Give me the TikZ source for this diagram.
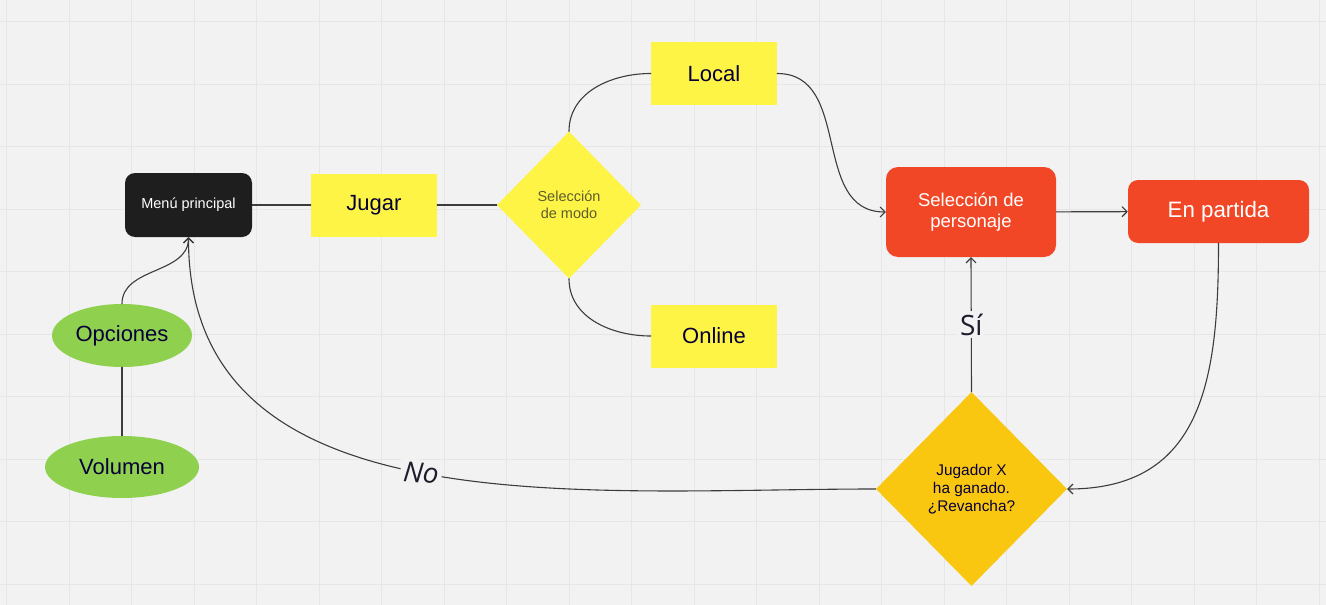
\documentclass[tikz,border=0pt]{standalone}
\usepackage{fontspec}
\setmainfont{Liberation Sans}
\newfontfamily\lblfont{Open Sans}
\usetikzlibrary{shapes.geometric,arrows.meta}
\definecolor{bgcol}{HTML}{F2F2F2}
\definecolor{gridcol}{HTML}{E6E6E6}
\definecolor{inkcol}{HTML}{050038}
\definecolor{linecol}{HTML}{3C3C3C}
\definecolor{lblcol}{HTML}{1C1C2C}
\definecolor{yelcol}{HTML}{FEF445}
\definecolor{redcol}{HTML}{F24726}
\definecolor{grncol}{HTML}{8FD14F}
\definecolor{goldcol}{HTML}{FAC710}
\definecolor{blkcol}{HTML}{1E1E1E}
\definecolor{olvcol}{HTML}{5F5D2C}
\tikzset{
	gridline/.style={color=gridcol,line width=0.8pt},
	conn/.style={color=linecol,line width=1.1pt},
	yelbox/.style={rectangle,fill=yelcol,minimum width=126,minimum height=63,inner sep=0,text=inkcol,font=\fontsize{22}{26}\selectfont},
	redbox/.style={rectangle,rounded corners=12,fill=redcol,inner sep=0,text=white,align=center},
	oval/.style={ellipse,fill=grncol,minimum height=63,inner sep=0,text=inkcol,font=\fontsize{22}{26}\selectfont},
	lbl/.style={fill=bgcol,inner sep=3,text=lblcol,font=\lblfont\fontsize{28}{32}\selectfont}
}
\begin{document}
\begin{tikzpicture}[x=1pt,y=-1pt,line cap=round,line join=round,>={Straight Barb[length=5pt,width=10pt]}]
	\useasboundingbox[fill=bgcol] (0,0) rectangle (1326,605);
	\foreach \gx in {0,...,21}
	\draw[gridline] ({6.5+62.5*\gx},0) -- ({6.5+62.5*\gx},605);
	\foreach \gy in {0,...,9}
	\draw[gridline] (0,{21.5+62.5*\gy}) -- (1326,{21.5+62.5*\gy});
	% nodos
	\node[rectangle,rounded corners=10,fill=blkcol,minimum width=127,minimum height=64,inner sep=0,text=white,font=\fontsize{14.5}{17}\selectfont] (menu) at (188.5,205) {Menú principal};
	\node[yelbox] (jugar) at (374,205) {Jugar};
	\node[diamond,fill=yelcol,minimum width=144,minimum height=147,inner sep=0,align=center,text=olvcol,font=\fontsize{14.5}{16.7}\selectfont] (modo) at (569,205) {Selección\\de modo};
	\node[yelbox] (local) at (714,73.5) {Local};
	\node[yelbox] (online) at (714,336) {Online};
	\node[redbox,minimum width=170,minimum height=90,font=\fontsize{18.5}{21}\selectfont] (pers) at (971,212) {Selección de\\personaje};
	\node[redbox,rounded corners=10,minimum width=181,minimum height=63,font=\fontsize{22.3}{26}\selectfont] (part) at (1218.5,211.5) {En partida};
	\node[diamond,fill=goldcol,minimum width=191,minimum height=194,inner sep=0,align=center,text=inkcol,font=\fontsize{15.4}{18}\selectfont] (rev) at (971.5,489) {Jugador X\\ha ganado.\\¿Revancha?};
	\node[oval,minimum width=140] (opc) at (122,335.5) {Opciones};
	\node[oval,minimum width=154,minimum height=62] (vol) at (122,467) {Volumen};
	% conectores
	\draw[conn] (menu) -- (jugar);
	\draw[conn] (jugar) -- (modo);
	\draw[conn] (modo.north) to[out=90,in=180] (local.west);
	\draw[conn] (modo.south) to[out=-90,in=180] (online.west);
	\draw[conn,->] (local.east) to[out=0,in=180,looseness=1.1] (pers.west);
	\draw[conn,->] (pers) -- (part);
	\draw[conn,->] (part.south) to[out=-90,in=0,looseness=1.2] (rev.east);
	\draw[conn,->] (rev.north) -- node[lbl] {Sí} (pers.south);
	\draw[conn,->] (rev.west) .. controls (580,489) and (188,530) .. node[lbl,rotate=-5,font=\lblfont\itshape\fontsize{28}{32}\selectfont] {No} (menu.south);
	\draw[conn,->] (opc.north) to[out=90,in=-90] (menu.south);
	\draw[conn] (opc) -- (vol);
\end{tikzpicture}
\end{document}
